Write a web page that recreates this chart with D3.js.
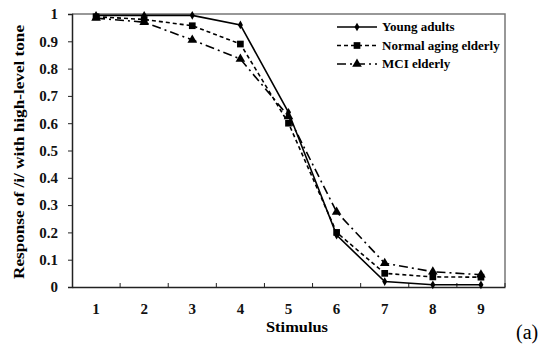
<!DOCTYPE html>
<html>
<head>
<meta charset="utf-8">
<script src="https://cdn.jsdelivr.net/npm/d3@7"></script>
<style>
  body { margin: 0; background: #fff; }
</style>
</head>
<body>
<div id="chart"></div>
<script>
// data
const stimuli = ["1", "2", "3", "4", "5", "6", "7", "8", "9"];
const youngAdults = [0.995, 0.995, 0.995, 0.96, 0.64, 0.19, 0.02, 0.008, 0.008];
const normalAging = [0.99, 0.98, 0.957, 0.89, 0.60, 0.20, 0.05, 0.037, 0.036];
const mciElderly = [0.985, 0.97, 0.905, 0.835, 0.625, 0.275, 0.087, 0.056, 0.045];
const seriesNames = ["Young adults", "Normal aging elderly", "MCI elderly"];
const yTicks = [0, 0.1, 0.2, 0.3, 0.4, 0.5, 0.6, 0.7, 0.8, 0.9, 1];

const width = 550, height = 347;
const plotL = 72, plotR = 505, plotT = 14, plotB = 287;
const serif = "'Liberation Serif', 'Times New Roman', Times, 'DejaVu Serif', serif";

const svg = d3.select("#chart").append("svg")
    .attr("width", width)
    .attr("height", height)
    .style("font-family", serif);

const x = d3.scaleBand().domain(stimuli).range([plotL, plotR]);
const y = d3.scaleLinear().domain([0, 1]).range([plotB, plotT]);

// frame (top / right in grey)
svg.append("path")
    .attr("d", `M${plotL},${plotT}H${plotR}V${plotB}`)
    .attr("fill", "none")
    .attr("stroke", "#777")
    .attr("stroke-width", 1.5);

// y axis
const yAxis = svg.append("g")
    .attr("transform", `translate(${plotL},0)`)
    .call(d3.axisLeft(y).tickValues(yTicks).tickSize(4).tickPadding(10)
        .tickFormat(d => d === 0 || d === 1 ? d3.format("d")(d) : d3.format(".1f")(d)));
yAxis.attr("font-family", serif);
yAxis.selectAll("text").style("font-family", serif).style("font-size", "15px").style("font-weight", "bold").attr("fill", "#111");

// x axis, ticks between categories pointing inward
const xAxis = svg.append("g")
    .attr("transform", `translate(0,${plotB})`)
    .call(d3.axisBottom(x).tickSize(0).tickPadding(16));
xAxis.attr("font-family", serif);
xAxis.selectAll("text").style("font-family", serif).style("font-size", "15px").style("font-weight", "bold").attr("fill", "#111");
xAxis.selectAll(".tick").append("line")
    .attr("x1", x.bandwidth() / 2).attr("x2", x.bandwidth() / 2)
    .attr("y1", 0).attr("y2", -4)
    .attr("stroke", "#222");
svg.selectAll(".domain").attr("stroke", "#222").attr("stroke-width", 1.5);
svg.selectAll(".tick line").attr("stroke", "#222");

const series = [
  { name: seriesNames[0], values: youngAdults, dash: null, marker: d3.symbolDiamond, size: 22 },
  { name: seriesNames[1], values: normalAging, dash: "4,3", marker: d3.symbolSquare, size: 45 },
  { name: seriesNames[2], values: mciElderly, dash: "9,4,2,4", marker: d3.symbolTriangle, size: 40 }
];

const line = d3.line()
    .x((d, i) => x(stimuli[i]) + x.bandwidth() / 2)
    .y(d => y(d));

series.slice().reverse().forEach(s => {
  svg.append("path")
      .datum(s.values)
      .attr("d", line)
      .attr("fill", "none")
      .attr("stroke", "#000")
      .attr("stroke-width", 1.6)
      .attr("stroke-dasharray", s.dash);
  svg.selectAll(null)
      .data(s.values)
      .enter()
      .append("path")
      .attr("d", d3.symbol().type(s.marker).size(s.size))
      .attr("transform", (d, i) => `translate(${x(stimuli[i]) + x.bandwidth() / 2},${y(d)})`)
      .attr("fill", "#000");
});

// legend
const legend = svg.append("g").attr("transform", "translate(337,27)");
series.forEach((s, i) => {
  const g = legend.append("g").attr("transform", `translate(0,${i * 18.5})`);
  g.append("line")
      .attr("x1", 0).attr("x2", 40)
      .attr("stroke", "#000").attr("stroke-width", 1.6)
      .attr("stroke-dasharray", s.dash);
  g.append("path")
      .attr("d", d3.symbol().type(s.marker).size(s.size))
      .attr("transform", "translate(20,0)");
  g.append("text")
      .attr("x", 45).attr("y", 4)
      .style("font-family", serif)
      .style("font-size", "13px")
      .style("font-weight", "bold")
      .text(s.name);
});

// axis titles
svg.append("text")
    .attr("transform", "translate(24,152) rotate(-90)")
    .attr("text-anchor", "middle")
    .attr("textLength", 254)
    .attr("lengthAdjust", "spacingAndGlyphs")
    .style("font-family", serif)
    .style("font-size", "15px")
    .style("font-weight", "bold")
    .text("Response of /i/ with high-level tone");

svg.append("text")
    .attr("x", 297).attr("y", 332)
    .attr("text-anchor", "middle")
    .attr("textLength", 62)
    .attr("lengthAdjust", "spacingAndGlyphs")
    .style("font-family", serif)
    .style("font-size", "15px")
    .style("font-weight", "bold")
    .text("Stimulus");

svg.append("text")
    .attr("x", 516).attr("y", 339)
    .style("font-family", serif)
    .style("font-size", "20px")
    .text("(a)");
</script>
</body>
</html>
